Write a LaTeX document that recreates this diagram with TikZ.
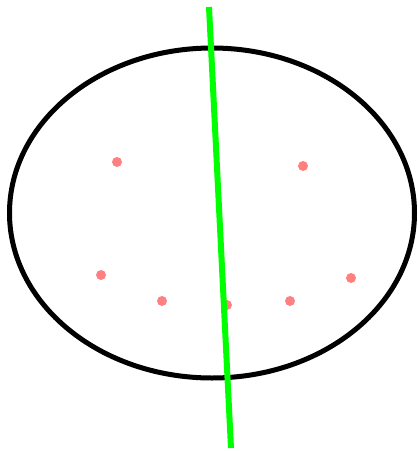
\documentclass[tikz,border=0pt]{standalone}
\definecolor{dotred}{RGB}{255,128,128}
\definecolor{lgreen}{RGB}{0,255,0}
\begin{document}
\begin{tikzpicture}[x=1pt,y=-1pt,
  pt/.style={fill=dotred,draw=none,circle,minimum size=10pt,inner sep=0pt}]
\useasboundingbox (0,0) rectangle (418,451);
\draw[line width=5pt] (212,213) ellipse [x radius=202.5, y radius=165];
\node[pt] (p1) at (117,162) {};
\node[pt] (p2) at (303,166) {};
\node[pt] (p3) at (101,275) {};
\node[pt] (p4) at (162,301) {};
\node[pt] (p5) at (227,305) {};
\node[pt] (p6) at (290,301) {};
\node[pt] (p7) at (351,278) {};
\coordinate (a) at (209,7);
\coordinate (b) at (231,448);
\draw[lgreen,line width=6pt] (a) -- (b);
\end{tikzpicture}
\end{document}
